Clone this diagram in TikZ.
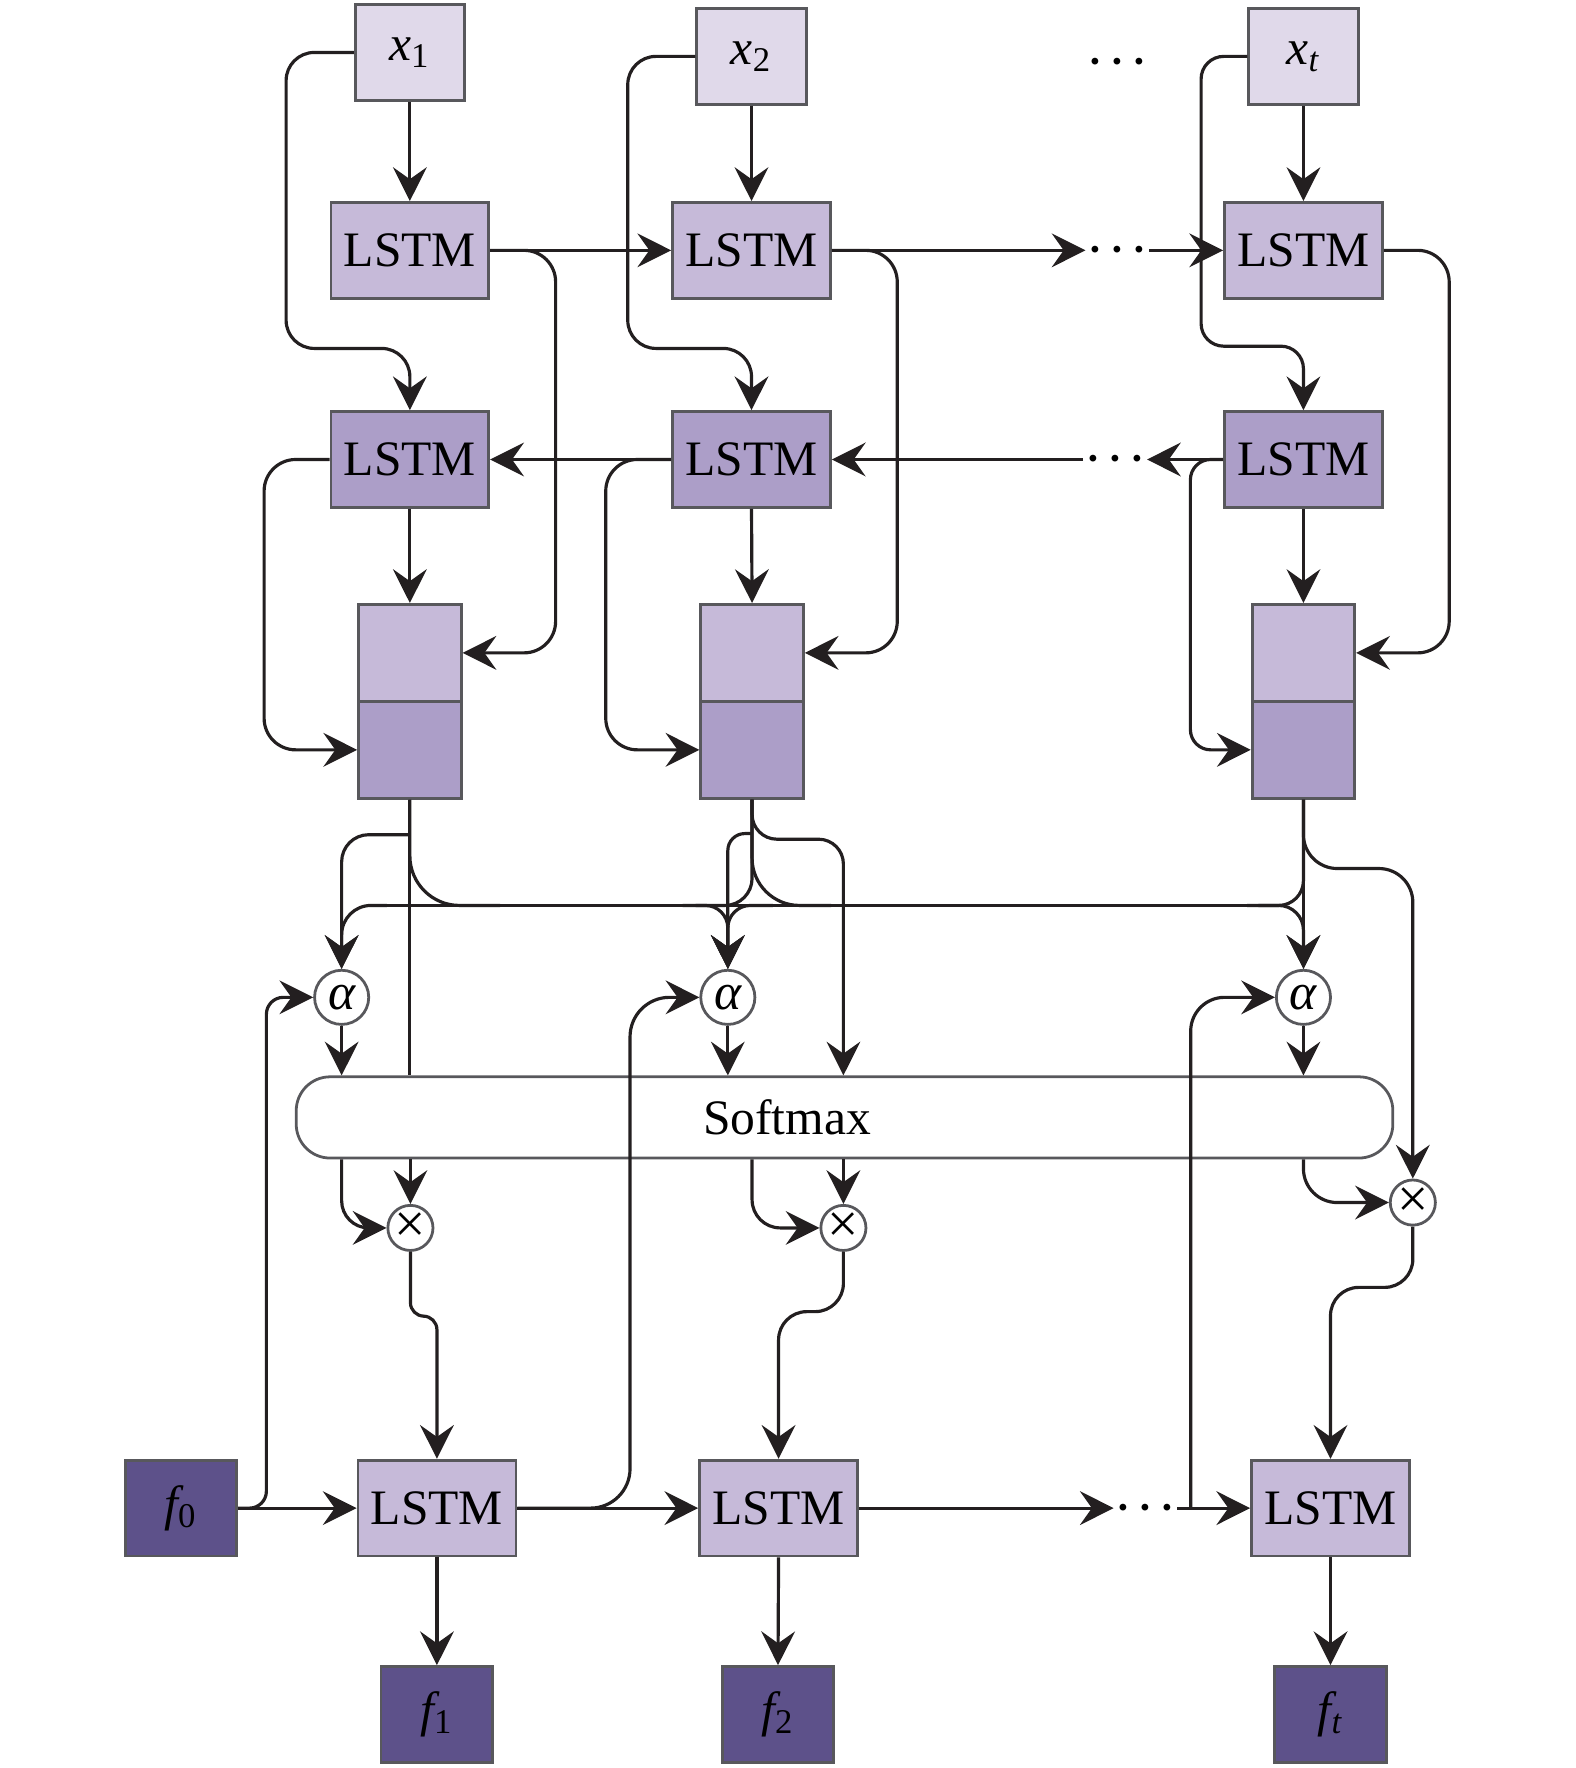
\documentclass[tikz,border=0pt]{standalone}
\usepackage{fontspec}
\setmainfont{Liberation Serif}
\usetikzlibrary{arrows.meta, calc}
\definecolor{inputfill}{RGB}{224,217,234}
\definecolor{fwdfill}{RGB}{198,186,217}
\definecolor{bwdfill}{RGB}{172,158,200}
\definecolor{outfill}{RGB}{93,81,138}
\definecolor{edgegray}{RGB}{88,88,92}
\definecolor{linedark}{RGB}{35,31,32}

\begin{document}
\begin{tikzpicture}[
    x=0.01cm, y=-0.01cm,
    font=\fontsize{12.5}{15}\selectfont,
    inbox/.style={rectangle, draw=edgegray, line width=0.7pt, fill=inputfill,
                  minimum width=0.97cm, minimum height=0.85cm, inner sep=0pt},
    lstmf/.style={rectangle, draw=edgegray, line width=0.7pt, fill=fwdfill,
                  minimum width=1.40cm, minimum height=0.85cm, inner sep=0pt},
    lstmb/.style={lstmf, fill=bwdfill},
    halfbox/.style={rectangle, draw=edgegray, line width=0.7pt,
                    minimum width=0.91cm, minimum height=0.86cm, inner sep=0pt},
    outbox/.style={rectangle, draw=edgegray, line width=0.7pt, fill=outfill,
                   minimum width=0.99cm, minimum height=0.85cm, inner sep=0pt},
    gate/.style={circle, draw=edgegray, line width=0.7pt, fill=white,
                 minimum size=0.48cm, inner sep=0pt, font=\fontsize{13}{15}\selectfont},
    mult/.style={circle, draw=edgegray, line width=0.7pt, fill=white,
                 minimum size=0.40cm, inner sep=0pt, font=\fontsize{14}{15}\selectfont},
    softbox/.style={rectangle, rounded corners=0.3cm, draw=edgegray, line width=0.7pt,
                    minimum width=9.72cm, minimum height=0.72cm},
    dotsnode/.style={inner sep=0.5pt, font=\fontsize{11}{12}\selectfont\boldmath},
    arrow/.style={-{Stealth[length=8.5pt, width=8.5pt, inset=3pt]}, line width=0.8pt, color=linedark},
    wire/.style={line width=0.8pt, color=linedark}
]
\useasboundingbox (0,0) rectangle (1397,1568);

% --- Encoder inputs ---
\node[inbox] (x1) at (363.5,46.5) {{\itshape x}\textsubscript{1}};
\node[inbox] (x2) at (666.5,50) {{\itshape x}\textsubscript{2}};
\node[inbox] (xt) at (1156,50) {{\itshape x}\textsubscript{\itshape t}};
\node[dotsnode] (topdots) at (991,55) {$\cdots$};

% --- Forward LSTM ---
\node[lstmf] (fwd1) at (363.5,222) {LSTM};
\node[lstmf] (fwd2) at (666.5,222) {LSTM};
\node[lstmf] (fwdt) at (1156,222) {LSTM};
\node[dotsnode] (fdots) at (991,222) {$\cdots$};

% --- Backward LSTM ---
\node[lstmb] (bwd1) at (363.5,407.5) {LSTM};
\node[lstmb] (bwd2) at (666.5,407.5) {LSTM};
\node[lstmb] (bwdt) at (1156,407.5) {LSTM};
\node[dotsnode] (bdots) at (989,407.5) {$\cdots$};

% --- Concatenated states ---
\node[halfbox, fill=fwdfill] (hf1) at (363.5,579) {};
\node[halfbox, fill=bwdfill] (hb1) at (363.5,665) {};
\node[halfbox, fill=fwdfill] (hf2) at (667,579) {};
\node[halfbox, fill=bwdfill] (hb2) at (667,665) {};
\node[halfbox, fill=fwdfill] (hft) at (1156,579) {};
\node[halfbox, fill=bwdfill] (hbt) at (1156,665) {};

% --- Attention ---
\coordinate (bus) at (0,803);
\node[gate] (a1) at (303,884.5) {{\itshape α}};
\node[gate] (a2) at (645.5,884.5) {{\itshape α}};
\node[gate] (at) at (1156,884.5) {{\itshape α}};

\node[softbox] (smax) at (749,991) {};
\node (smaxlabel) at ([xshift=-0.51cm]smax.center) {Softmax};

\node[mult] (m1) at (364,1089) {×};
\node[mult] (m2) at (748,1089) {×};
\node[mult] (mt) at (1253,1066.5) {×};

% --- Decoder ---
\node[outbox] (f0) at (160.5,1337.5) {{\itshape f}\textsubscript{0}};
\node[lstmf] (d1) at (387.5,1337.5) {LSTM};
\node[lstmf] (d2) at (690.5,1337.5) {LSTM};
\node[lstmf] (dt) at (1180,1337.5) {LSTM};
\node[dotsnode] (ddots) at (1016,1337.5) {$\cdots$};
\coordinate (tap3) at (1056,1337.5);
\node[outbox] (f1) at (387.5,1520.5) {{\itshape f}\textsubscript{1}};
\node[outbox] (f2) at (690,1520.5) {{\itshape f}\textsubscript{2}};
\node[outbox] (ft) at (1180,1520.5) {{\itshape f}\textsubscript{\itshape t}};

% encoder connections
\foreach \c in {1,2,t} {
  \draw[arrow] (x\c.south) -- (fwd\c.north);
  \draw[arrow] (bwd\c.south) -- (hf\c.north);
  \draw[arrow, rounded corners=0.28cm] (fwd\c.east) -- ++(58,0) |- (hf\c.east);
  \draw[arrow] (a\c.south) -- (a\c.south |- smax.north);
  \draw[arrow] (d\c.south) -- (f\c.north);
}
\draw[arrow, rounded corners=0.25cm] (x1.west) -- ++(-60,0) -- ++(0,262.5) -| (bwd1.north);
\draw[arrow, rounded corners=0.25cm] (x2.west) -- ++(-60,0) -- ++(0,259) -| (bwd2.north);
\draw[arrow, rounded corners=0.2cm] (xt.west) -- ++(-41,0) -- ++(0,257) -| (bwdt.north);

\draw[arrow] (fwd1.east) -- (fwd2.west);
\draw[arrow] (fwd2.east) -- (fdots.west);
\draw[arrow] (fdots.east) -- (fwdt.west);
\draw[arrow] (bwd2.west) -- (bwd1.east);
\draw[arrow] (bwdt.west) -- (bdots.east);
\draw[arrow] (bdots.west) -- (bwd2.east);

\draw[arrow, rounded corners=0.28cm] (bwd1.west) -- ++(-58,0) |- (hb1.west);
\draw[arrow, rounded corners=0.28cm] (bwd2.west) -- ++(-58,0) |- (hb2.west);
\draw[arrow, rounded corners=0.18cm] (bwdt.west) -- ++(-29,0) |- (hbt.west);

% states to attention (bus)
\draw[wire] (hb1.south) -- (hb1.south |- smax.north);
\draw[arrow, rounded corners=0.24cm] (hb1.south) ++(0,31) -| (a1.north);
\draw[wire, rounded corners=0.44cm] (hb1.south) -- (hb1.south |- bus) -- ++(80,0);
\draw[wire] ($(a1.north |- bus)+(30,0)$) -- ($(at.north |- bus)+(-30,0)$);
\draw[arrow, rounded corners=0.26cm] ($(a1.north |- bus)+(40,0)$) -- (a1.north |- bus) -- (a1.north);
\draw[arrow, rounded corners=0.22cm] ($(at.north |- bus)+(-40,0)$) -- (at.north |- bus) -- (at.north);

\draw[wire, rounded corners=0.24cm] (hb2.south) -- (hb2.south |- bus) -- ++(-50,0);
\draw[wire, rounded corners=0.42cm] (hb2.south) -- (hb2.south |- bus) -- ++(70,0);
\draw[arrow, rounded corners=0.15cm] (hb2.south) ++(0,30) -| (a2.north);
\draw[arrow, rounded corners=0.2cm] ($(a2.north |- bus)+(-40,0)$) -- (a2.north |- bus) -- (a2.north);
\draw[arrow, rounded corners=0.2cm] ($(a2.north |- bus)+(40,0)$) -- (a2.north |- bus) -- (a2.north);
\draw[arrow, rounded corners=0.22cm] (hb2.south) -- ++(0,35) -| (m2.north |- smax.north);

\draw[arrow] (hbt.south) -- (at.north);
\draw[wire, rounded corners=0.22cm] (hbt.south) -- (hbt.south |- bus) -- ++(-50,0);
\draw[arrow, rounded corners=0.3cm] (hbt.south) -- ++(0,61) -| (mt.north);

% softmax to products
\draw[arrow, rounded corners=0.24cm] (a1.south |- smax.south) |- (m1.west);
\draw[arrow] (m1.north |- smax.south) -- (m1.north);
\draw[arrow, rounded corners=0.25cm] (hb2.south |- smax.south) |- (m2.west);
\draw[arrow] (m2.north |- smax.south) -- (m2.north);
\draw[arrow, rounded corners=0.3cm] (hbt.south |- smax.south) |- (mt.west);

% products to decoder
\draw[arrow, rounded corners=0.12cm] (m1.south) -- ++(0,57) -| (d1.north);
\draw[arrow, rounded corners=0.25cm] (m2.south) -- ++(0,53) -| (d2.north);
\draw[arrow, rounded corners=0.25cm] (mt.south) -- ++(0,54) -| (dt.north);

% decoder chain
\draw[arrow] (f0.east) -- (d1.west);
\draw[arrow] (d1.east) -- (d2.west);
\draw[arrow] (d2.east) -- (ddots.west);
\draw[arrow] (ddots.east) -- (dt.west);
\draw[arrow, rounded corners=0.15cm] (f0.east) -- ++(25,0) |- (a1.west);
\draw[arrow, rounded corners=0.35cm] (d1.east) -- ++(100,0) |- (a2.west);
\draw[arrow, rounded corners=0.3cm] (tap3) |- (at.west);

\end{tikzpicture}
\end{document}
